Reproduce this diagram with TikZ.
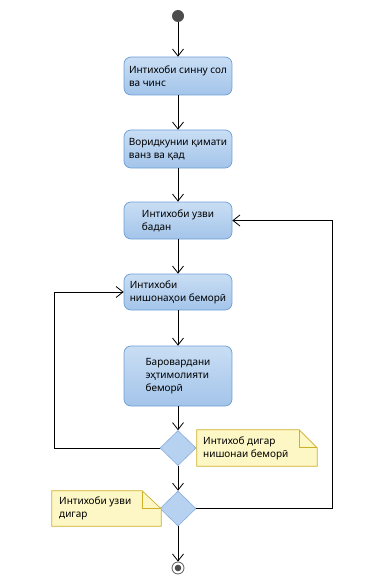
\documentclass[tikz,border=0pt]{standalone}
\usepackage{fontspec}
\setmainfont{Noto Sans}
\usetikzlibrary{arrows.meta, shapes.geometric}

\definecolor{actTop}{HTML}{C9DEF4}
\definecolor{actBot}{HTML}{A3C4EA}
\definecolor{actLine}{HTML}{6E9ED6}
\definecolor{decFill}{HTML}{B7D2F0}
\definecolor{decLine}{HTML}{87ACE0}
\definecolor{noteFill}{HTML}{FCF7C4}
\definecolor{noteLine}{HTML}{CFAE28}

\tikzset{
  act/.style = {rectangle, rounded corners = 7pt, draw = actLine, line width = 0.7pt,
                top color = actTop, bottom color = actBot,
                minimum width = 108pt, align = left, inner sep = 2pt},
  dec/.style = {diamond, draw = decLine, fill = decFill, line width = 0.6pt,
                minimum width = 36pt, minimum height = 35pt, inner sep = 0pt},
  note/.style = {rectangle, align = left, inner sep = 0pt, anchor = west},
  notebox/.style = {draw = noteLine, fill = noteFill, line width = 0.7pt},
  flow/.style = {black, line width = 0.8pt, -{Straight Barb[length = 7pt, width = 11pt]}},
  line/.style = {black, line width = 0.8pt}
}

\begin{document}
\begin{tikzpicture}[x = 1pt, y = -1pt, font = \fontsize{10}{13}\selectfont]
\useasboundingbox (0,0) rectangle (371,588);

% start and end
\node[circle, fill = black!70, minimum size = 12pt, inner sep = 0pt] (start) at (178,16) {};
\node[circle, draw = black!65, line width = 0.8pt, fill = white, minimum size = 12pt, inner sep = 0pt] (stop) at (178,568) {};
\fill[black!70] (stop.center) circle (3.3pt);

% actions
\node[act, minimum height = 38pt] (b1) at (178,76) {Интихоби синну сол\\ва чинс};
\node[act, minimum height = 38pt] (b2) at (178,149) {Воридкунии қимати\\ванз ва қад};
\node[act, minimum height = 37pt] (b3) at (178,220.5) {Интихоби узви\\бадан};
\node[act, minimum height = 36pt] (b4) at (178,292) {Интихоби\\нишонаҳои беморӣ};
\node[act, minimum height = 60pt] (b5) at (178,376) {Баровардани\\эҳтимолияти\\беморӣ};

% decisions
\node[dec] (d1) at (178,448) {};
\node[dec] (d2) at (178,508.5) {};

% notes
\node[minimum width = 120pt, minimum height = 36pt, inner sep = 0pt] (n1) at (257,448) {};
\filldraw[notebox] (n1.north west) -- ([xshift = -18pt]n1.north east) -- ([yshift = -18pt]n1.north east)
  -- (n1.south east) -- (n1.south west) -- cycle;
\draw[notebox, fill = none] ([xshift = -18pt]n1.north east) |- ([yshift = -18pt]n1.north east);
\node[note] (t1) at (203,448) {Интихоб дигар\\нишонаи беморӣ};

\node[minimum width = 109pt, minimum height = 35pt, inner sep = 0pt] (n2) at (106.5,508.5) {};
\filldraw[notebox] (n2.north west) -- ([xshift = -19pt]n2.north east) -- ([yshift = -18pt]n2.north east)
  -- (n2.south east) -- (n2.south west) -- cycle;
\draw[notebox, fill = none] ([xshift = -19pt]n2.north east) |- ([yshift = -18pt]n2.north east);
\node[note] (t2) at (59,508.5) {Интихоби узви\\дигар};

% flow
\draw[flow] (start) -- (b1);
\draw[flow] (b1) -- (b2);
\draw[flow] (b2) -- (b3);
\draw[flow] (b3) -- (b4);
\draw[flow] (b4) -- (b5);
\draw[flow] (b5) -- (d1);
\draw[flow] (d1) -- (d2);
\draw[flow] (d2) -- (stop);

% loops back
\coordinate (backL) at (54,448);
\coordinate (backR) at (332,508.5);
\draw[line] (d1.west) -- (backL);
\draw[flow] (backL) |- (b4.west);
\draw[line] (d2.east) -- (backR);
\draw[flow] (backR) |- (b3.east);
\end{tikzpicture}
\end{document}
